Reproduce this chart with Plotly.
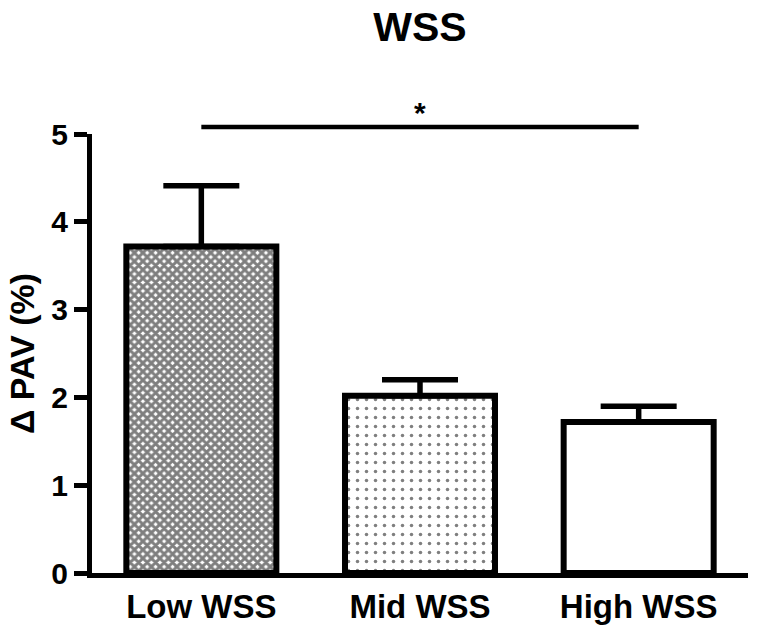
import plotly.graph_objects as go

categories = ["Low WSS", "Mid WSS", "High WSS"]
means = [3.72, 2.02, 1.72]
sem = [0.69, 0.18, 0.18]
sig_y = 5.08
patterns = ["x", ".", ""]
pattern_sizes = [6, 9, 8]
pattern_solidity = [0.74, 0.12, 0.2]

FONT = "Liberation Sans, Arial, sans-serif"

W, H = 760, 634
M_L, M_R, M_B = 92, 12, 61
M_T_FULL = 90          # top of the outer (annotation) area
Y5_PX = 134            # pixel row of the top of the main y axis
main_frac = (H - M_B - Y5_PX) / (H - M_B - M_T_FULL)
y_max = 5

fig = go.Figure()
fig.add_trace(go.Bar(
    x=categories, y=means,
    width=0.686,
    marker=dict(
        color="white",
        line=dict(color="black", width=6),
        pattern=dict(shape=patterns, size=pattern_sizes, solidity=pattern_solidity,
                     fgcolor="black", bgcolor="white", fillmode="overlay"),
    ),
    error_y=dict(type="data", symmetric=False, array=sem, arrayminus=[0, 0, 0],
                 color="black", thickness=5.5, width=38),
    showlegend=False,
))
fig.add_trace(go.Scatter(
    x=[categories[0], categories[2]], y=[sig_y, sig_y], yaxis="y2",
    mode="lines", line=dict(color="black", width=4.5),
    showlegend=False, hoverinfo="skip",
))
fig.add_annotation(x=categories[1], y=sig_y, xref="x", yref="y2", text="*", showarrow=False,
                   yanchor="bottom", yshift=-4,
                   font=dict(family=FONT, size=30, color="black", weight="bold"))

fig.update_layout(
    width=W, height=H,
    margin=dict(l=M_L, r=M_R, t=M_T_FULL, b=M_B),
    paper_bgcolor="white", plot_bgcolor="rgba(0,0,0,0)",
    title=dict(text="WSS", x=0.5, xref="paper", xanchor="center", y=1 - 27 / H,
               yanchor="middle", yref="container",
               font=dict(family=FONT, size=41, color="black", weight="bold")),
    xaxis=dict(showline=True, linecolor="black", linewidth=5, ticks="",
               showgrid=False, zeroline=False, automargin=False, anchor="y",
               tickfont=dict(family=FONT, size=33, color="black", weight="bold")),
    yaxis=dict(domain=[0, main_frac], range=[0, y_max], autorange=False,
               showline=True, linecolor="black", linewidth=5,
               ticks="outside", ticklen=13, tickwidth=4.5, tickcolor="black",
               tickvals=[0, 1, 2, 3, 4, 5], showgrid=False, zeroline=False, automargin=False,
               tickfont=dict(family=FONT, size=30, color="black", weight="bold"),
               title=dict(text="Δ PAV (%)", standoff=8,
                          font=dict(family=FONT, size=34, color="black", weight="bold"))),
    yaxis2=dict(domain=[0, 1], range=[0, y_max / main_frac], autorange=False,
                anchor="x", visible=False, showgrid=False, zeroline=False),
)

fig.write_html("out.html", config={"displayModeBar": False},
               post_script="document.body.style.margin='0';")
